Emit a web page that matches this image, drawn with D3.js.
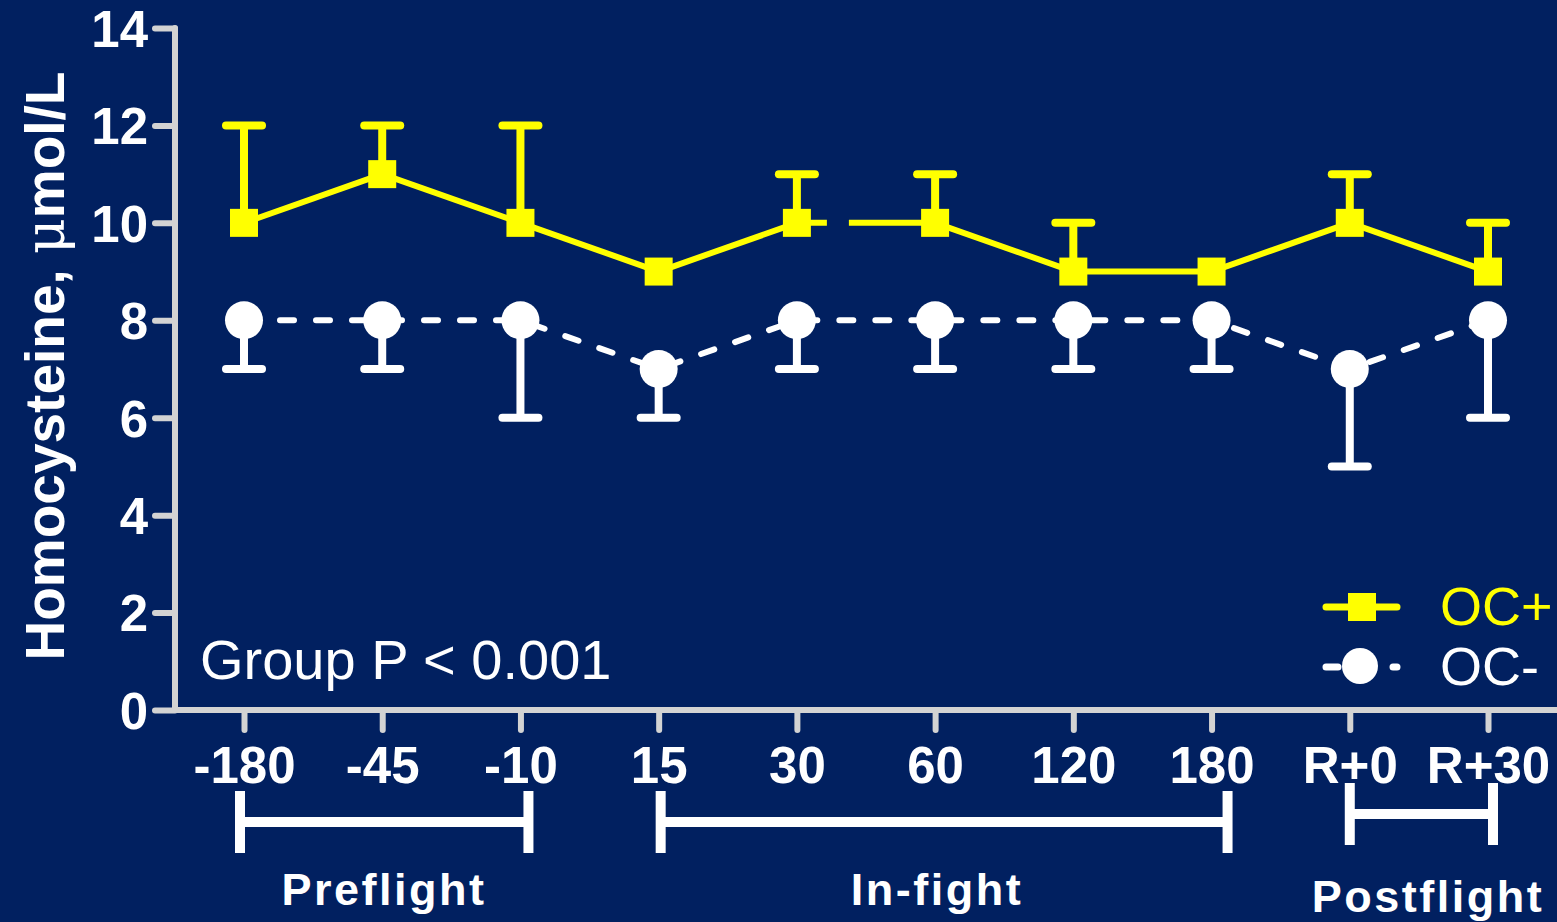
<!DOCTYPE html>
<html>
<head>
<meta charset="utf-8">
<script src="https://cdn.jsdelivr.net/npm/d3@7"></script>
<style>
  html, body { margin: 0; padding: 0; background: #012060; }
  svg { display: block; }
</style>
</head>
<body>
<div id="chart"></div>
<script>
// data
const days = ["-180", "-45", "-10", "15", "30", "60", "120", "180", "R+0", "R+30"];
const ocPlusMean = [10, 11, 10, 9, 10, 10, 9, 9, 10, 9];
const ocPlusUpper = [12, 12, 12, 9, 11, 11, 10, 9, 11, 10];
const ocMinusMean = [8, 8, 8, 7, 8, 8, 8, 8, 7, 8];
const ocMinusLower = [7, 7, 6, 6, 7, 7, 7, 7, 5, 6];
const yTicks = [0, 2, 4, 6, 8, 10, 12, 14];
const phases = [
  { name: "Preflight", from: "-180", to: "-10" },
  { name: "In-fight", from: "15", to: "180" },
  { name: "Postflight", from: "R+0", to: "R+30" }
];

const W = 1557, H = 922;
const bg = "#012060";
const axisCol = "#d3d3d3";
const yellow = "#ffff00";
const font = "Liberation Sans, Arial, sans-serif";

const svg = d3.select("#chart").append("svg")
  .attr("width", W).attr("height", H);
svg.append("rect").attr("width", W).attr("height", H).attr("fill", bg);

const x = d3.scalePoint().domain(days).range([244, 1488]);
const y = d3.scaleLinear().domain([0, 14]).range([710, 28]);
const axisX = 175;

// y axis
const gy = svg.append("g").attr("transform", "translate(" + axisX + ",0)")
  .call(d3.axisLeft(y).tickValues(yTicks).tickSize(20).tickPadding(7).tickFormat(d3.format("d")));
gy.select(".domain").remove();
gy.selectAll(".tick line").attr("stroke", axisCol).attr("stroke-width", 6).attr("stroke-linecap", "round");
gy.selectAll(".tick text").attr("fill", "white").attr("font-family", font)
  .attr("font-weight", "bold").attr("font-size", 51).attr("dy", "0.36em");
svg.append("line").attr("x1", axisX).attr("x2", axisX).attr("y1", y(14)).attr("y2", y(0))
  .attr("stroke", axisCol).attr("stroke-width", 6).attr("stroke-linecap", "round");

// x axis
const gx = svg.append("g").attr("transform", "translate(0," + y(0) + ")")
  .call(d3.axisBottom(x).tickSize(20).tickPadding(12));
gx.select(".domain").remove();
gx.selectAll(".tick line").attr("stroke", axisCol).attr("stroke-width", 6).attr("stroke-linecap", "round");
gx.selectAll(".tick text").attr("fill", "white").attr("font-family", font)
  .attr("font-weight", "bold").attr("font-size", 51).attr("dy", "0.8em");
svg.append("line").attr("x1", axisX).attr("x2", W).attr("y1", y(0)).attr("y2", y(0))
  .attr("stroke", axisCol).attr("stroke-width", 6).attr("stroke-linecap", "round");

// y axis title
svg.append("text")
  .attr("transform", "translate(64," + 366 + ") rotate(-90)")
  .attr("text-anchor", "middle")
  .attr("fill", "white")
  .attr("font-family", font)
  .attr("font-weight", "bold")
  .attr("font-size", 55)
  .call(t => {
    t.append("tspan").text("Homocysteine, ");
    t.append("tspan").attr("font-family", "DejaVu Serif, serif").attr("font-weight", "normal").text("μ");
    t.append("tspan").text("mol/L");
  });

// error bars: OC+ upward, OC- downward
const capW = 36;
function errBars(means, ends, color) {
  const g = svg.append("g");
  days.forEach((d, i) => {
    if (ends[i] === means[i]) return;
    g.append("line").attr("x1", x(d)).attr("x2", x(d)).attr("y1", y(means[i])).attr("y2", y(ends[i]))
      .attr("stroke", color).attr("stroke-width", 8);
    g.append("line").attr("x1", x(d) - capW / 2).attr("x2", x(d) + capW / 2)
      .attr("y1", y(ends[i])).attr("y2", y(ends[i]))
      .attr("stroke", color).attr("stroke-width", 8).attr("stroke-linecap", "round");
  });
}
errBars(ocPlusMean, ocPlusUpper, yellow);
errBars(ocMinusMean, ocMinusLower, "white");

// OC+ solid line (with the small break between 30 and 60)
days.slice(0, -1).forEach((d, i) => {
  const ln = svg.append("line")
    .attr("x1", x(d)).attr("y1", y(ocPlusMean[i]))
    .attr("x2", x(days[i + 1])).attr("y2", y(ocPlusMean[i + 1]))
    .attr("stroke", yellow).attr("stroke-width", 6);
  if (d === "30") ln.attr("stroke-dasharray", "30 22 1000");
});

// OC- dashed line
svg.append("path")
  .datum(ocMinusMean)
  .attr("d", d3.line().x((v, i) => x(days[i])).y(v => y(v)))
  .attr("fill", "none").attr("stroke", "white").attr("stroke-width", 6)
  .attr("stroke-linecap", "round").attr("stroke-dasharray", "14 22");

// markers
svg.selectAll(".sq").data(ocPlusMean).enter().append("rect")
  .attr("x", (v, i) => x(days[i]) - 14).attr("y", v => y(v) - 14)
  .attr("width", 28).attr("height", 28).attr("fill", yellow);
svg.selectAll(".ci").data(ocMinusMean).enter().append("circle")
  .attr("cx", (v, i) => x(days[i])).attr("cy", v => y(v)).attr("r", 19).attr("fill", "white");

// group p
svg.append("text").attr("x", 200).attr("y", 679)
  .attr("fill", "white").attr("font-family", font)
  .attr("font-size", 56).text("Group P < 0.001");

// legend
const lg = svg.append("g");
lg.append("line").attr("x1", 1326).attr("x2", 1397).attr("y1", 607).attr("y2", 607)
  .attr("stroke", yellow).attr("stroke-width", 7).attr("stroke-linecap", "round");
lg.append("rect").attr("x", 1348).attr("y", 593).attr("width", 28).attr("height", 28).attr("fill", yellow);
lg.append("text").attr("x", 1440).attr("y", 625).attr("fill", yellow)
  .attr("font-family", font).attr("font-size", 54).text("OC+");
lg.append("line").attr("x1", 1326).attr("x2", 1397).attr("y1", 667).attr("y2", 667)
  .attr("stroke", "white").attr("stroke-width", 7).attr("stroke-linecap", "round")
  .attr("stroke-dasharray", "12 55");
lg.append("circle").attr("cx", 1360).attr("cy", 666).attr("r", 18).attr("fill", "white");
lg.append("text").attr("x", 1440).attr("y", 685).attr("fill", "white")
  .attr("font-family", font).attr("font-size", 54).text("OC-");

// phase brackets
const bracketPad = { "Preflight": [-4, 8], "In-fight": [2, 16], "Postflight": [0, 5] };
const bracketY = { "Preflight": 822, "In-fight": 822, "Postflight": 814 };
const labelY = { "Preflight": 905, "In-fight": 905, "Postflight": 912 };
const labelX = { "Preflight": 384, "In-fight": 937, "Postflight": 1428 };
phases.forEach(p => {
  const x0 = x(p.from) + bracketPad[p.name][0];
  const x1 = x(p.to) + bracketPad[p.name][1];
  const by = bracketY[p.name];
  const g = svg.append("g").attr("stroke", "white").attr("stroke-width", 10);
  g.append("line").attr("x1", x0).attr("x2", x1).attr("y1", by).attr("y2", by);
  g.append("line").attr("x1", x0).attr("x2", x0).attr("y1", by - 31).attr("y2", by + 31);
  g.append("line").attr("x1", x1).attr("x2", x1).attr("y1", by - 31).attr("y2", by + 31);
  svg.append("text").attr("x", labelX[p.name]).attr("y", labelY[p.name])
    .attr("text-anchor", "middle").attr("fill", "white")
    .attr("font-family", font).attr("font-weight", "bold")
    .attr("font-size", 45).attr("letter-spacing", 2.5).text(p.name);
});
</script>
</body>
</html>
